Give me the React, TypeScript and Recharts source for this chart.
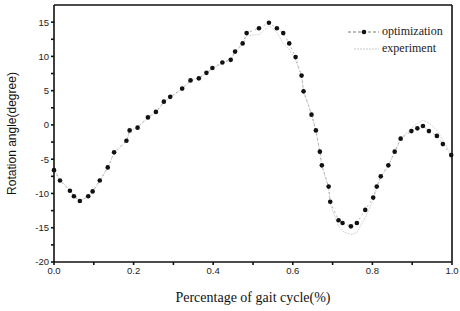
import { LineChart, Line, XAxis, YAxis, Legend, Label } from "recharts"

// gait cycle fraction
const gaitX = [
  0.0, 0.015, 0.04, 0.05, 0.065, 0.086, 0.097, 0.115, 0.135, 0.151,
  0.182, 0.19, 0.21, 0.236, 0.256, 0.276, 0.292, 0.322, 0.343, 0.364,
  0.383, 0.398, 0.423, 0.444, 0.455, 0.474, 0.484, 0.515, 0.54, 0.56,
  0.576, 0.591, 0.607, 0.622, 0.627, 0.647, 0.658, 0.668, 0.673, 0.69,
  0.694, 0.715, 0.725, 0.746, 0.761, 0.782, 0.802, 0.811, 0.821, 0.84,
  0.856, 0.871, 0.898, 0.913, 0.927, 0.942, 0.962, 0.977, 0.998,
]

// optimization result (degree)
const optimization = [
  -6.6, -8.1, -9.6, -10.4, -11.1, -10.4, -9.7, -8.1, -6.2, -4.0,
  -2.3, -0.8, -0.4, 1.1, 1.9, 3.4, 4.1, 5.3, 6.5, 6.8,
  7.6, 8.3, 9.1, 9.5, 10.7, 11.9, 13.4, 14.1, 14.9, 14.1,
  13.4, 11.9, 9.9, 7.2, 4.9, 1.5, -0.8, -3.9, -5.9, -9.0,
  -11.2, -13.9, -14.3, -14.8, -14.3, -12.4, -10.6, -9.0, -7.5, -5.9,
  -3.9, -2.0, -0.9, -0.5, -0.15, -0.9, -1.6, -2.8, -4.4,
]

// experiment measurement (degree)
const experiment = [
  -6.5, -8.0, -9.5, -10.3, -11.0, -10.5, -9.8, -8.2, -6.3, -4.1,
  -2.4, -0.9, -0.3, 1.0, 1.8, 3.3, 4.0, 5.2, 6.4, 6.9,
  7.5, 8.2, 9.0, 9.6, 10.6, 11.8, 13.0, 13.2, 14.5, 13.5,
  11.9, 11.0, 9.5, 7.0, 5.0, 1.6, -0.9, -4.0, -6.0, -9.2,
  -11.5, -14.8, -15.5, -16.0, -15.7, -13.5, -11.0, -9.2, -7.6, -6.0,
  -4.0, -2.0, -0.5, 0.2, 0.7, 0.3, -0.8, -2.2, -4.3,
]

const xTicks = [0, 0.1, 0.2, 0.3, 0.4, 0.5, 0.6, 0.7, 0.8, 0.9, 1.0]
const yTicks = [-20, -17.5, -15, -12.5, -10, -7.5, -5, -2.5, 0, 2.5, 5, 7.5, 10, 12.5, 15]

const data = gaitX.map((x, i) => ({ x, opt: optimization[i], exp: experiment[i] }))

const tickFont = { fontFamily: "Liberation Sans, Arial, sans-serif", fontSize: 9.5, fill: "#222" }

const LegendBox = () => (
  <div style={{ fontFamily: "Liberation Serif, Times New Roman, serif", fontSize: 12, color: "#222", lineHeight: "17px" }}>
    <div style={{ display: "flex", alignItems: "center" }}>
      <svg width={31} height={8} style={{ marginRight: 3 }}>
        <line x1={0} y1={4} x2={31} y2={4} stroke="#555" strokeDasharray="3 2" strokeWidth={0.8} />
        <circle cx={16} cy={4} r={2.3} fill="#111" />
      </svg>
      optimization
    </div>
    <div style={{ display: "flex", alignItems: "center" }}>
      <svg width={31} height={8} style={{ marginRight: 3 }}>
        <line x1={6} y1={4} x2={31} y2={4} stroke="#bbb" strokeDasharray="2 1" strokeWidth={0.8} />
      </svg>
      experiment
    </div>
  </div>
)

export default function App() {
  return (
    <div style={{ position: "absolute", left: 0, top: 0, background: "#fff" }}>
      <LineChart width={460} height={311} data={data} margin={{ top: 4, right: 7, bottom: 0, left: 0 }}>
        <XAxis
          dataKey="x"
          type="number"
          domain={[0, 1]}
          ticks={xTicks}
          interval={0}
          height={49}
          tickFormatter={(v: number) => (Math.round(v * 10) % 2 === 0 ? v.toFixed(1) : "")}
          tick={tickFont}
          tickSize={3}
          stroke="#111"
          strokeWidth={1.6}
        >
          <Label
            value="Percentage of gait cycle(%)"
            position="insideBottom"
            offset={9}
            style={{ fontFamily: "Liberation Serif, Times New Roman, serif", fontSize: 14, fill: "#111" }}
          />
        </XAxis>
        <XAxis xAxisId="top" dataKey="x" type="number" domain={[0, 1]} orientation="top" height={1} tick={false} stroke="#111" strokeWidth={1.6} />
        <YAxis
          type="number"
          domain={[-20, 17.5]}
          ticks={yTicks}
          interval={0}
          width={54}
          allowDataOverflow
          tickFormatter={(v: number) => (v % 5 === 0 ? String(v) : "")}
          tick={tickFont}
          tickSize={3}
          stroke="#111"
          strokeWidth={1.6}
        >
          <Label
            value="Rotation angle(degree)"
            angle={-90}
            position="insideLeft"
            offset={12}
            style={{ textAnchor: "middle", fontFamily: "Liberation Sans, Arial, sans-serif", fontSize: 12, fill: "#111" }}
          />
        </YAxis>
        <YAxis yAxisId="right" type="number" domain={[-20, 17.5]} orientation="right" width={1} tick={false} stroke="#111" strokeWidth={1.6} />
        <Legend
          content={<LegendBox />}
          layout="horizontal"
          verticalAlign="middle"
          align="center"
          wrapperStyle={{ top: 23, left: 348, width: "auto" }}
        />
        <Line
          dataKey="exp"
          stroke="#c8c8c8"
          strokeWidth={0.8}
          strokeDasharray="2 1"
          dot={false}
          isAnimationActive={false}
        />
        <Line
          dataKey="opt"
          stroke="#888"
          strokeWidth={0.6}
          strokeDasharray="2 3"
          dot={{ r: 2.3, fill: "#111", stroke: "none" }}
          isAnimationActive={false}
        />
      </LineChart>
    </div>
  )
}
